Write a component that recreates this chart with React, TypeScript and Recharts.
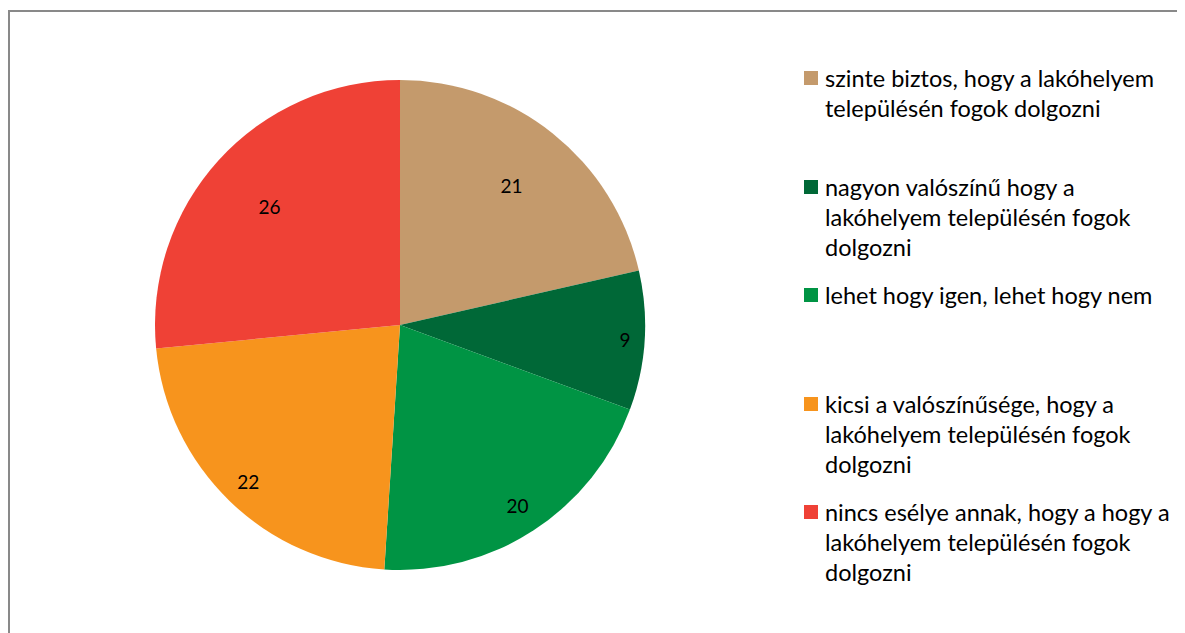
import { Legend, Pie, PieChart, Cell } from "recharts"

const categories = [
  "szinte biztos, hogy a lakóhelyem településén fogok dolgozni",
  "nagyon valószínű hogy a lakóhelyem településén fogok dolgozni",
  "lehet hogy igen, lehet hogy nem",
  "kicsi a valószínűsége, hogy a lakóhelyem településén fogok dolgozni",
  "nincs esélye annak, hogy a hogy a lakóhelyem településén fogok dolgozni",
]
const values = [21, 9, 20, 22, 26]
const colors = ["#C49A6C", "#006837", "#009444", "#F7941D", "#EF4136"]

// label distance from centre, as a share of the radius (Excel "best fit" look)
const labelRadius = [0.73, 0.92, 0.88, 0.89, 0.72]

const FONT = "Lato, 'Open Sans', sans-serif"
const RADIAN = Math.PI / 180

const data = categories.map((name, i) => ({ name, value: values[i], color: colors[i] }))

function renderLabel(props: any) {
  const { cx, cy, midAngle, outerRadius, index, value } = props
  const r = outerRadius * labelRadius[index]
  const x = cx + r * Math.cos(-midAngle * RADIAN)
  const y = cy + r * Math.sin(-midAngle * RADIAN)
  return (
    <text x={x} y={y} fill="#000" fontSize={19} fontFamily={FONT} textAnchor="middle" dominantBaseline="central">
      {value}
    </text>
  )
}

function LegendContent() {
  return (
    <div style={{ fontFamily: FONT, fontSize: 23.5, color: "#000" }}>
      {data.map((d) => (
        <div key={d.name} style={{ height: 108.5, display: "flex", alignItems: "flex-start" }}>
          <div style={{ width: 14, height: 14, background: d.color, marginTop: 8, marginRight: 7, flexShrink: 0 }} />
          <div style={{ lineHeight: "30px", width: 348 }}>{d.name}</div>
        </div>
      ))}
    </div>
  )
}

export default function App() {
  return (
    <div style={{ position: "relative", top: 2, width: 1200, height: 700, borderTop: "2px solid #898989", borderLeft: "2px solid #898989", background: "#fff" }}>
      <PieChart width={1180} height={630} margin={{ top: 0, right: 0, bottom: 0, left: 0 }}>
        <Pie
          data={data}
          dataKey="value"
          nameKey="name"
          cx={390}
          cy={313}
          outerRadius={245}
          startAngle={90}
          endAngle={-270}
          stroke="none"
          labelLine={false}
          label={renderLabel}
          isAnimationActive={false}
        >
          {data.map((d) => (
            <Cell key={d.name} fill={d.color} />
          ))}
        </Pie>
        <Legend
          layout="vertical"
          verticalAlign="top"
          align="right"
          content={<LegendContent />}
          wrapperStyle={{ left: 794, top: 51, width: 380 }}
        />
      </PieChart>
    </div>
  )
}
